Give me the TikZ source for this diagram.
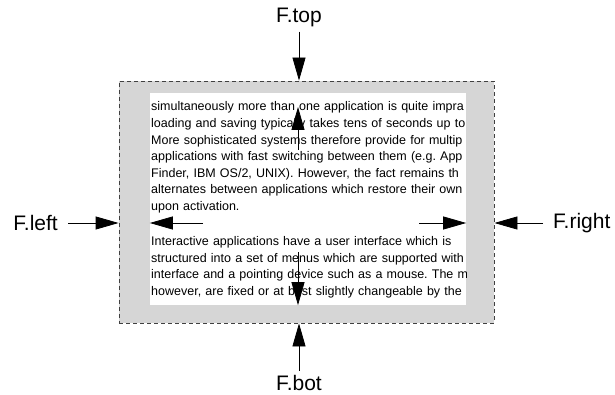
\documentclass[tikz,border=0pt]{standalone}
\usepackage{fontspec}
\setmainfont{Liberation Sans}
\usetikzlibrary{arrows.meta, positioning, calc}
\frenchspacing

\begin{document}
\begin{tikzpicture}[x=1pt, y=-1pt,
    frame/.style={draw=black!75, line width=0.8pt, dash pattern=on 4pt off 3pt, fill=black!16, minimum width=375pt, minimum height=242pt, inner sep=0pt},
    page/.style={fill=white, minimum width=316pt, minimum height=212pt, inner sep=0pt},
    flabel/.style={font=\fontsize{21}{25}\selectfont, inner xsep=10pt, inner ysep=4pt},
    txt/.style={font=\fontsize{12.5}{16.6}\selectfont, text width=400pt, align=left, inner sep=0pt, anchor=base west},
    arr/.style={-{Triangle[length=23pt, width=13pt]}, line width=0.8pt}
]
    \useasboundingbox (0,0) rectangle (615,395);

    % Window frame and page
    \node[frame] (frame) at (306.5,202) {};
    \node[page]  (page)  at (308,199) {};

    % Text, cut off at the page border
    \begin{scope}
        \clip (page.south west) rectangle (page.north east);
        \node[txt] (para1) at (151,111) {simultaneously more than one application is quite impra\\
            loading and saving typically takes tens of seconds up to\\
            More sophisticated systems therefore provide for multip\\
            applications with fast switching between them (e.g. App\\
            Finder, IBM OS/2, UNIX). However, the fact remains th\\
            alternates between applications which restore their own\\
            upon activation.};
        \node[txt] (para2) at (151,245.5) {Interactive applications have a user interface which is\\
            structured into a set of menus which are supported with\\
            interface and a pointing device such as a mouse. The m\\
            however, are fixed or at best slightly changeable by the};
    \end{scope}

    % Labels
    \node[flabel, anchor=base]  (ftop)   at (299,23)  {F.top};
    \node[flabel, anchor=base]  (fbot)   at (299,390) {F.bot};
    \node[flabel, anchor=east]  (fleft)  at (68,223)  {F.left};
    \node[flabel, anchor=west]  (fright) at (543,223) {F.right};

    % Outer forces
    \draw[arr] (ftop) -- (ftop |- frame.north);
    \draw[arr] (fbot) -- (fbot |- frame.south);
    \draw[arr] (fleft) -- (fleft -| frame.west);
    \draw[arr] (fright) -- (fright -| frame.east);

    % Inner forces
    \coordinate (utail) at (298,150);
    \coordinate (uhead) at (298,107);
    \coordinate (dtail) at (298,252);
    \coordinate (ltail) at (203,223);
    \coordinate (rtail) at (419,223);
    \draw[arr] (utail) -- (uhead);
    \draw[arr] (dtail) -- (dtail |- page.south);
    \draw[arr] (ltail) -- (ltail -| page.west);
    \draw[arr] (rtail) -- (rtail -| page.east);
\end{tikzpicture}
\end{document}
